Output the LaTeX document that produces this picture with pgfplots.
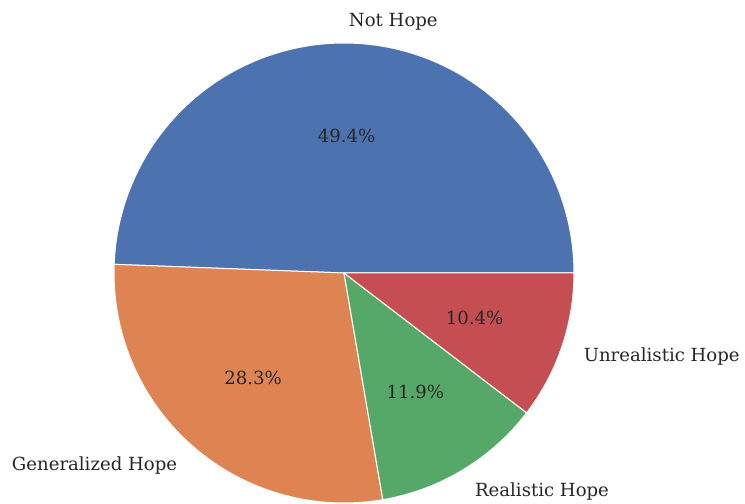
\documentclass[border=0pt]{standalone}
\usepackage{fontspec}
\setmainfont{DejaVu Serif}
\usepackage{pgfplots}
\pgfplotsset{compat=1.18}

\definecolor{pblue}{HTML}{4C72B0}
\definecolor{porange}{HTML}{DD8452}
\definecolor{pgreen}{HTML}{55A868}
\definecolor{pred}{HTML}{C44E52}
\definecolor{txt}{HTML}{262626}

% one wedge: start pct, end pct, colour (centre 344,231, radius 230)
\newcommand{\slice}[3]{%
  \addplot[draw=white, line width=1bp, line join=round, fill=#3,
    domain=3.6*#1:3.6*#2, samples=120, variable=\t]
    ({344+230*cos(\t)},{231+230*sin(\t)}) -- (axis cs:344,231) -- cycle;}

\tikzset{lbl/.style={inner sep=0pt, text=txt, font=\fontsize{18.1bp}{21bp}\selectfont}}

% labels at 1.1 r, percentages at 0.6 r
\newcommand{\pielabel}[3]{%
  \node[lbl, anchor=#3]
    at (axis cs:{344+253*cos(3.6*#1)},{229+253*sin(3.6*#1)}) {#2};}
\newcommand{\pctlabel}[2]{%
  \node[lbl, anchor=center]
    at (axis cs:{344+138*cos(3.6*#1)},{230+138*sin(3.6*#1)}) {#2};}

\begin{document}
\begin{tikzpicture}
\begin{axis}[
  scale only axis,
  width=745bp, height=504bp,
  xmin=0, xmax=745, ymin=0, ymax=504,
  hide axis,
  clip=false,
]
\slice{0}{49.4}{pblue}
\slice{49.4}{77.7}{porange}
\slice{77.7}{89.6}{pgreen}
\slice{89.6}{100}{pred}

\pielabel{24.7}{Not Hope}{west}
\pielabel{63.55}{Generalized Hope}{east}
\pielabel{83.65}{Realistic Hope}{west}
\pielabel{94.8}{Unrealistic Hope}{west}

\pctlabel{24.7}{49.4\%}
\pctlabel{63.55}{28.3\%}
\pctlabel{83.65}{11.9\%}
\pctlabel{94.8}{10.4\%}
\end{axis}
\pgfresetboundingbox
\path[use as bounding box] (0,0) rectangle (745bp,504bp);
\end{tikzpicture}
\end{document}
